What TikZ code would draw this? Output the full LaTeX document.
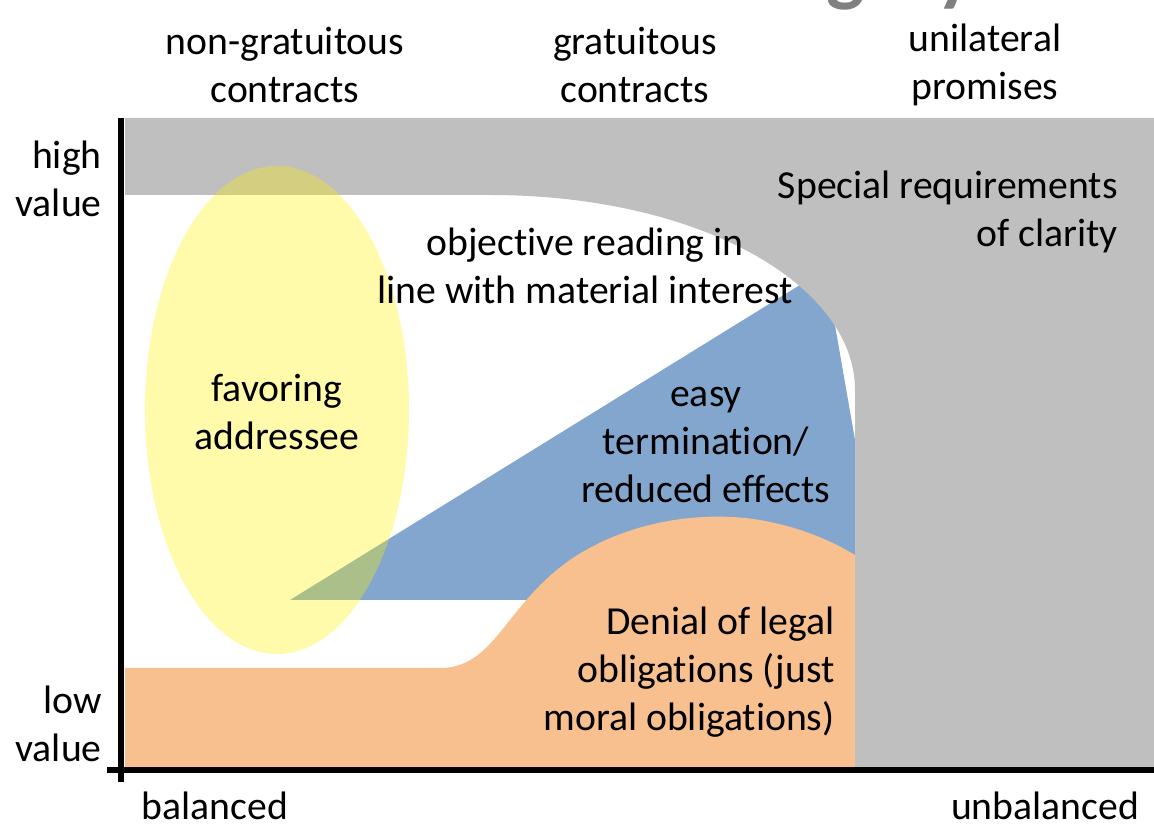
\documentclass[tikz,border=0pt]{standalone}
\usepackage{fontspec}
\setmainfont{Carlito}[Ligatures=NoCommon]
\usetikzlibrary{positioning}

\definecolor{areagrey}{RGB}{191,191,191}
\definecolor{areablue}{RGB}{131,166,206}
\definecolor{areaorange}{RGB}{248,191,143}
\definecolor{titlegrey}{RGB}{128,128,128}

\tikzset{
  lbl/.style={font=\fontsize{22.6}{27.4}\selectfont, align=center, inner sep=0pt},
  axisline/.style={line width=3pt, black}
}

\begin{document}
\begin{tikzpicture}[x=0.02cm,y=-0.02cm]
            \useasboundingbox (0,0) rectangle (1154,827);

            % Title, cut off by the top edge
            \node[anchor=base east, inner sep=0pt, text=titlegrey,
                  font=\fontsize{46}{50}\selectfont\bfseries] (titleword) at (975,-3) {Category};

            % Easy termination (blue)
            \fill[areablue] (290,600) -- (808,280) -- (832,308) -- (855,440) -- (855,600) -- cycle;

            % Denial of legal obligations (orange)
            \fill[areaorange] (125,768) -- (125,668) -- (440,668)
                .. controls (495,668) and (505,605) .. (570,560)
                .. controls (625,522) and (700,510) .. (760,520)
                .. controls (805,528) and (835,543) .. (855,555)
                -- (855,768) -- cycle;

            % Special requirements of clarity (grey)
            \fill[areagrey] (125,118) -- (1154,118) -- (1154,770) -- (855,770) -- (855,390)
                .. controls (855,285) and (700,195) .. (490,195) -- (125,195) -- cycle;

            % Favoring addressee (yellow)
            \fill[yellow, opacity=0.33] (277,410) ellipse [x radius=132, y radius=244];

            % Axes
            \coordinate (ytop) at (121,118);
            \coordinate (ybot) at (121,782);
            \coordinate (xleft) at (107,770);
            \coordinate (xright) at (1154,770);
            \draw[axisline] (ytop) -- (ybot);
            \draw[axisline] (xleft) -- (xright);

            % Column headings
            \node[lbl] (ngc) at (285,65) {non-gratuitous\\contracts};
            \node[lbl] (gc) at (635,65) {gratuitous\\contracts};
            \node[lbl] (up) at (985,65) {unilateral\\promises};

            % Axis labels
            \node[lbl, anchor=east, align=right] (high) at (102,179) {high\\value};
            \node[lbl, anchor=east, align=right] (low) at (102,724) {low\\value};
            \node[lbl] (bal) at (215,806) {balanced};
            \node[lbl] (unbal) at (1045,806) {unbalanced};

            % Area labels
            \node[lbl, anchor=east, align=right] (special) at (1118,212) {Special requirements\\of clarity};
            \node[lbl] (objective) at (585,266) {objective reading in\\line with material interest};
            \node[lbl] (favoring) at (277,412) {favoring\\addressee};
            \node[lbl] (easy) at (706,445) {easy\\termination/\\reduced effects};
            \node[lbl, anchor=east, align=right] (denial) at (835,672) {Denial of legal\\obligations (just\\moral obligations)};
\end{tikzpicture}
\end{document}
